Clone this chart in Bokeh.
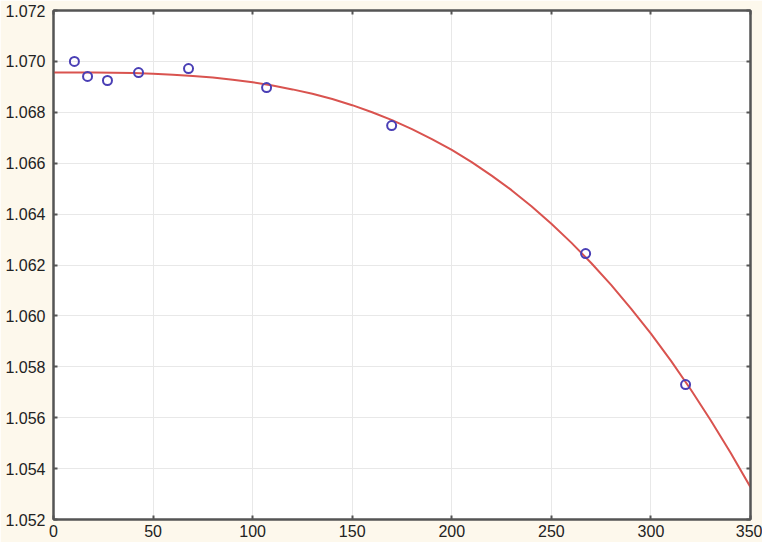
from bokeh.plotting import figure
from bokeh.models import LinearAxis, FixedTicker, PrintfTickFormatter, Range1d
from bokeh.embed import file_html
from bokeh.resources import INLINE

# measured points
x_pts = [10.5, 17.1, 27.1, 42.7, 67.8, 107.0, 169.8, 267.2, 317.4]
y_pts = [1.07000, 1.06941, 1.06925, 1.06956, 1.06972, 1.06897, 1.06748, 1.06245, 1.05730]

# fitted curve, every 10 units
x_fit = [0, 10, 20, 30, 40, 50, 60, 70, 80, 90, 100, 110, 120, 130, 140, 150, 160, 170,
         180, 190, 200, 210, 220, 230, 240, 250, 260, 270, 280, 290, 300, 310, 320, 330, 340, 350]
y_fit = [1.06956, 1.06956, 1.06956, 1.06955, 1.06954, 1.06951, 1.06948, 1.06943, 1.06937,
         1.06928, 1.06918, 1.06905, 1.06890, 1.06873, 1.06852, 1.06828, 1.06800, 1.06769,
         1.06734, 1.06695, 1.06652, 1.06604, 1.06551, 1.06494, 1.06431, 1.06362, 1.06288,
         1.06208, 1.06122, 1.06029, 1.05930, 1.05824, 1.05711, 1.05590, 1.05462, 1.05327]

x_ticks = [0, 50, 100, 150, 200, 250, 300, 350]
y_ticks = [1.052, 1.054, 1.056, 1.058, 1.060, 1.062, 1.064, 1.066, 1.068, 1.070, 1.072]

BG = "#fdf8ec"
AX = "#555555"
FONT = "Liberation Sans"

p = figure(width=762, height=542, output_backend="svg", toolbar_location=None,
           x_range=Range1d(0, 350), y_range=Range1d(1.052, 1.072),
           x_axis_location=None, y_axis_location=None,
           min_border_left=53, min_border_right=12, min_border_top=10, min_border_bottom=23)
p.background_fill_color = "white"
p.border_fill_color = BG
p.outline_line_color = AX
p.outline_line_width = 2

def mk_axis(ticks, fmt=None, labels=True):
    ax = LinearAxis(ticker=FixedTicker(ticks=ticks))
    if fmt:
        ax.formatter = PrintfTickFormatter(format=fmt)
    ax.axis_line_color = AX
    ax.axis_line_width = 2
    ax.major_tick_in = 4
    ax.major_tick_out = 0
    ax.major_tick_line_color = AX
    ax.major_tick_line_width = 2
    ax.minor_tick_line_color = None
    ax.major_label_text_font = FONT
    ax.major_label_text_font_size = "16px"
    ax.major_label_text_color = "#222222"
    if not labels:
        ax.major_label_text_font_size = "0px"
        ax.major_label_text_alpha = 0
        ax.major_label_standoff = 0
    return ax

left = mk_axis(y_ticks, "%.3f")
left.major_label_standoff = 8
bottom = mk_axis(x_ticks)
bottom.major_label_standoff = 5
right = mk_axis(y_ticks, labels=False)
top = mk_axis(x_ticks, labels=False)
p.add_layout(left, "left")
p.add_layout(bottom, "below")
p.add_layout(right, "right")
p.add_layout(top, "above")

p.xgrid.ticker = FixedTicker(ticks=x_ticks)
p.ygrid.ticker = FixedTicker(ticks=y_ticks)
p.xgrid.grid_line_color = "#e8e8e8"
p.ygrid.grid_line_color = "#e8e8e8"

p.line(x_fit, y_fit, line_color="#d9534f", line_width=2)
p.scatter(x_pts, y_pts, size=9, marker="circle", line_color="#4a3fb5",
          line_width=2, fill_alpha=0)

open("out.html", "w").write(file_html(p, INLINE))
